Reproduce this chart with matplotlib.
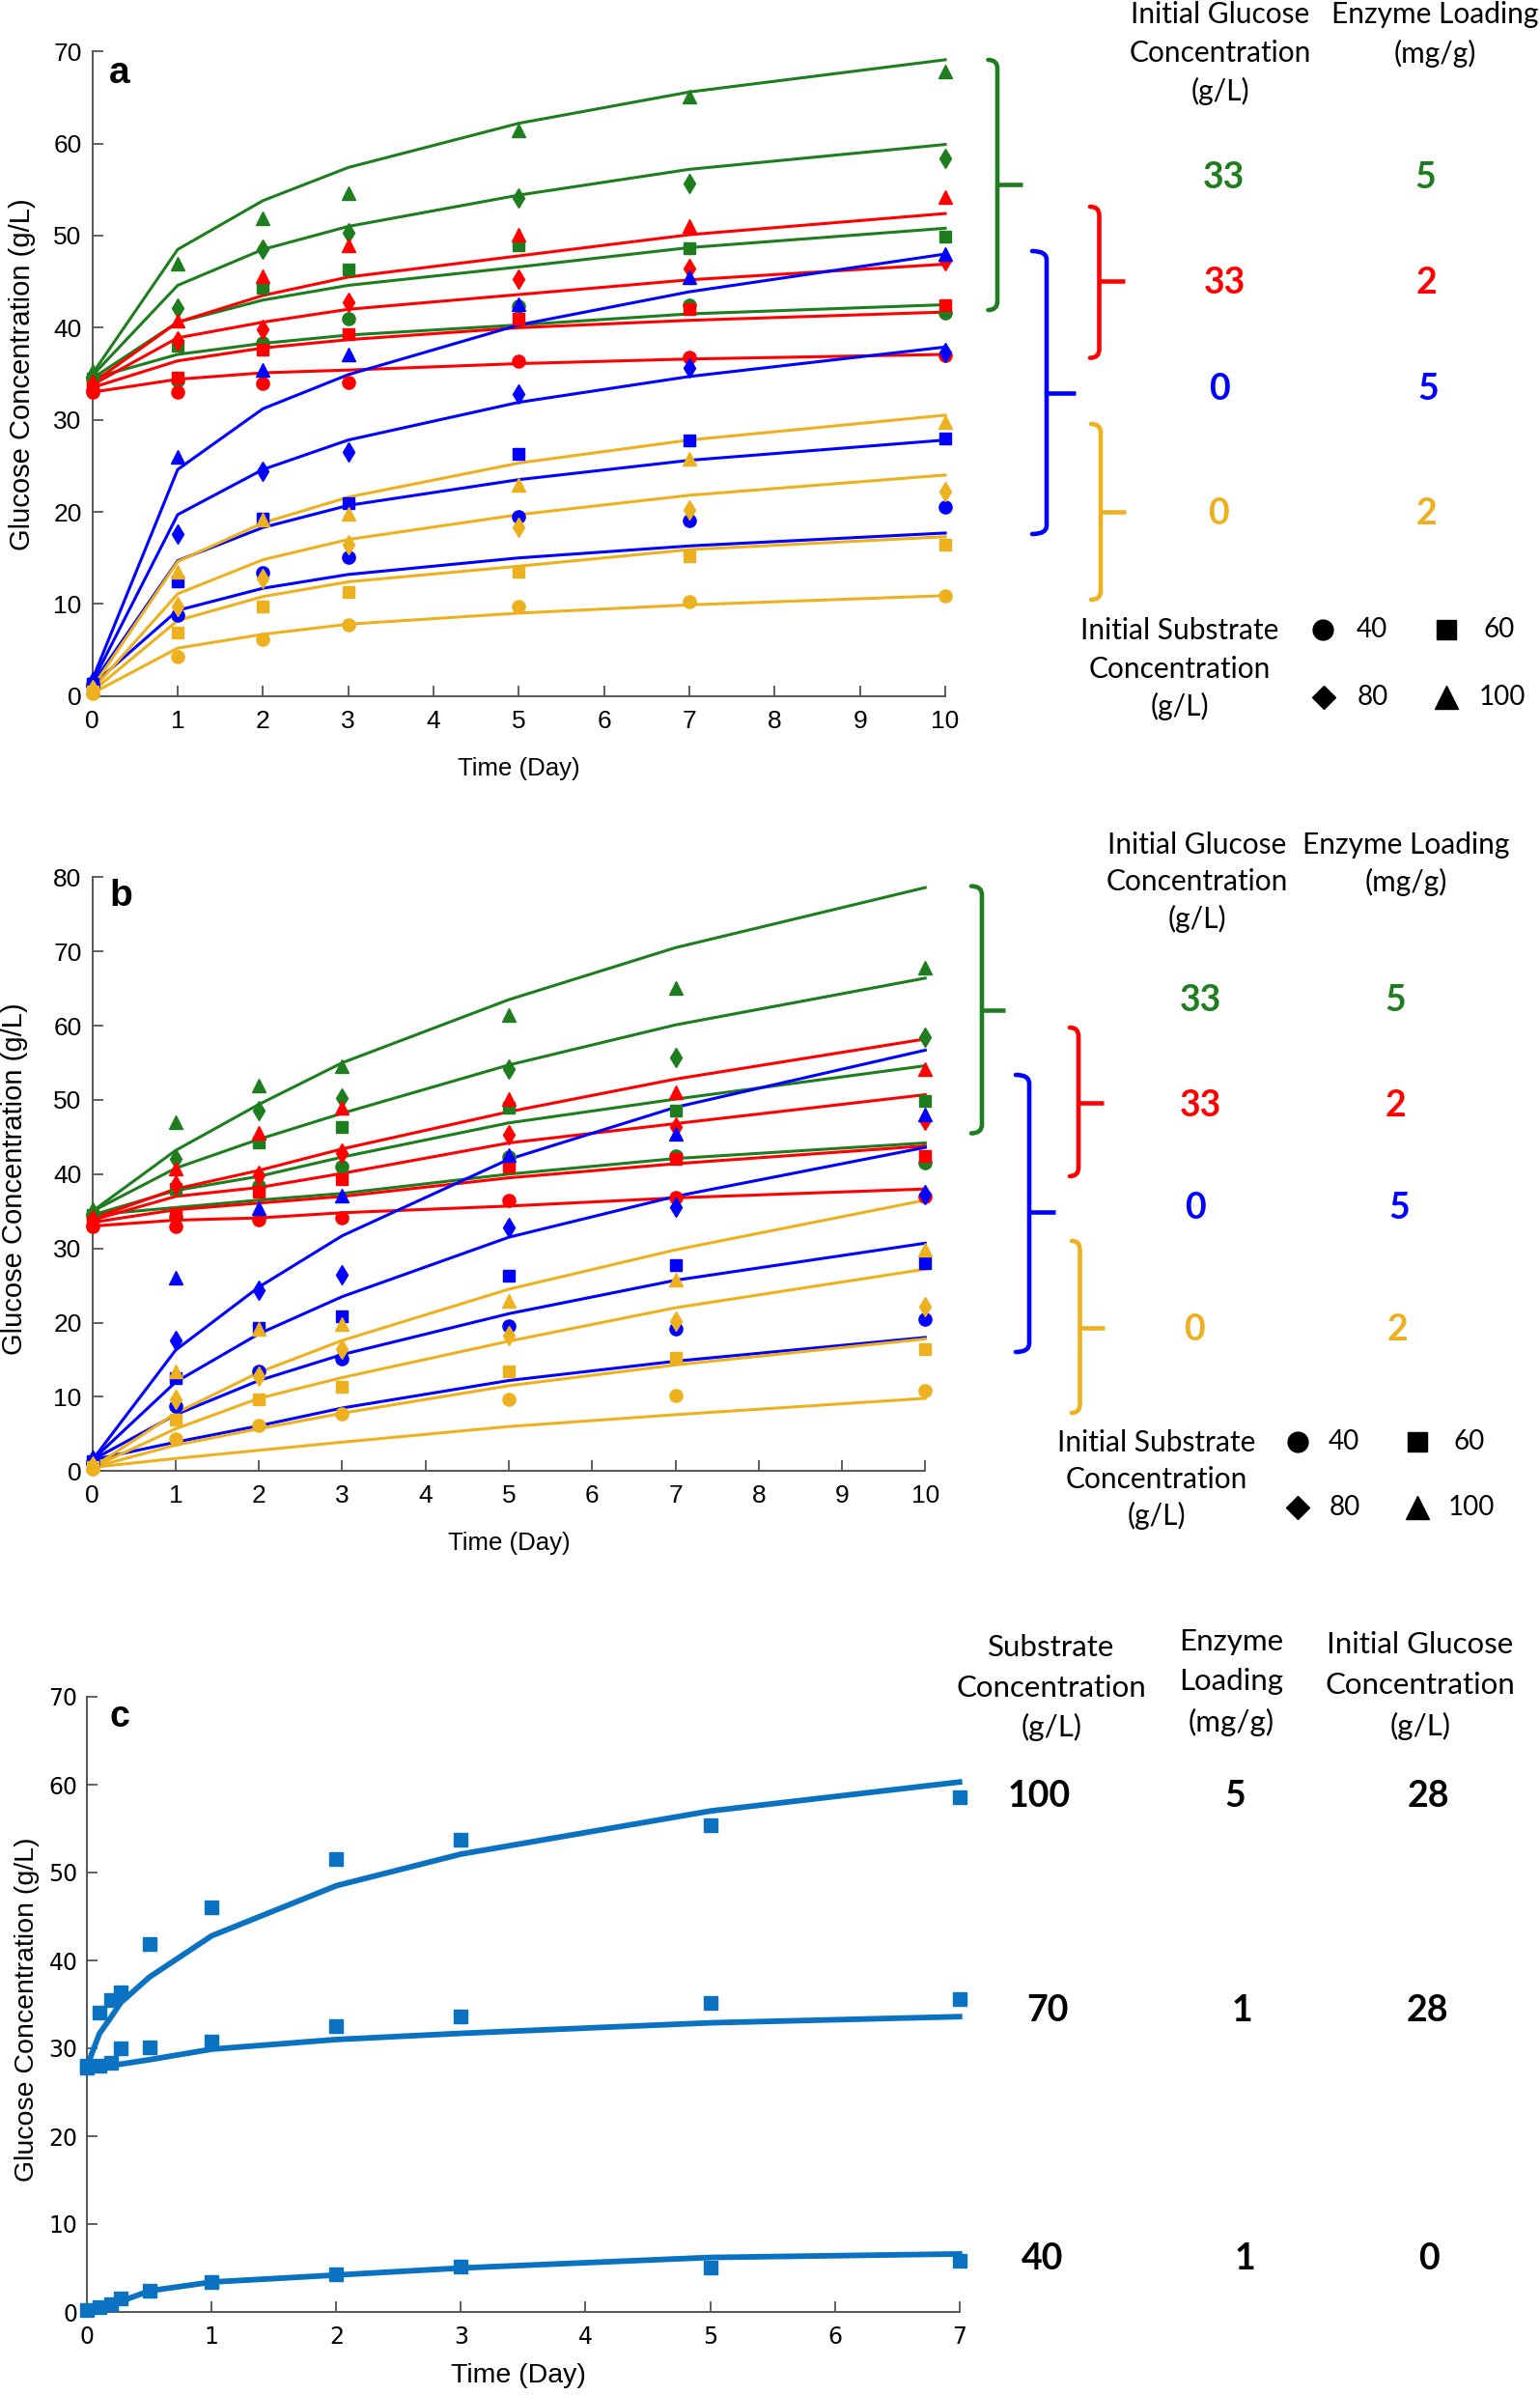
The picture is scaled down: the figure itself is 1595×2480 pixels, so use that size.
import matplotlib
matplotlib.use("Agg")
import matplotlib.pyplot as plt
from matplotlib import font_manager as fm
from matplotlib.path import Path
from matplotlib.patches import PathPatch

# ---------------- data ----------------
days = [0, 1, 2, 3, 5, 7, 10]
substrate_levels = ["40", "60", "80", "100"]          # initial substrate (g/L)
cond_glucose = ["33", "33", "0", "0"]                 # initial glucose (g/L)
cond_enzyme = ["5", "2", "5", "2"]                    # enzyme loading (mg/g)

# observed glucose (g/L); rows: substrate 40, 60, 80, 100
green_obs = [[34.5, 34.3, 38.4, 41.0, 42.3, 42.4, 41.6],
             [34.5, 38.0, 44.3, 46.3, 48.9, 48.6, 49.9],
             [34.8, 42.1, 48.5, 50.3, 54.1, 55.7, 58.4],
             [35.3, 47.0, 51.9, 54.6, 61.4, 65.1, 67.8]]
red_obs = [[33.0, 33.0, 33.9, 34.1, 36.4, 36.8, 37.0],
           [33.5, 34.6, 37.6, 39.3, 41.0, 42.0, 42.4],
           [33.8, 38.6, 39.8, 42.8, 45.3, 46.4, 47.3],
           [34.0, 40.8, 45.6, 48.9, 50.1, 51.0, 54.2]]
blue_obs = [[1.2, 8.8, 13.4, 15.1, 19.5, 19.1, 20.5],
            [1.3, 12.5, 19.3, 20.9, 26.3, 27.8, 28.0],
            [1.5, 17.6, 24.4, 26.5, 32.8, 35.6, 37.3],
            [1.8, 26.0, 35.4, 37.1, 42.6, 45.5, 48.0]]
yellow_obs = [[0.3, 4.3, 6.2, 7.7, 9.7, 10.2, 10.9],
              [0.5, 6.9, 9.7, 11.3, 13.5, 15.2, 16.4],
              [0.7, 9.7, 12.8, 16.4, 18.3, 20.2, 22.2],
              [0.9, 13.5, 19.2, 19.8, 22.9, 25.8, 29.8]]

# model (panel a)
green_fit_a = [[34.5, 37.1, 38.3, 39.2, 40.3, 41.5, 42.5],
               [34.5, 40.6, 43.0, 44.6, 46.6, 48.7, 50.8],
               [34.8, 44.6, 48.5, 51.0, 54.4, 57.2, 59.9],
               [35.0, 48.5, 53.8, 57.4, 62.2, 65.6, 69.1]]
red_fit_a = [[33.0, 34.4, 35.1, 35.4, 36.1, 36.6, 37.1],
             [33.5, 36.4, 37.8, 38.7, 40.0, 40.8, 41.7],
             [33.8, 38.9, 40.6, 42.0, 43.6, 45.2, 46.9],
             [34.0, 40.6, 43.5, 45.5, 47.8, 50.1, 52.4]]
blue_fit_a = [[1.2, 9.3, 11.7, 13.2, 15.0, 16.3, 17.7],
              [1.3, 14.7, 18.3, 20.7, 23.5, 25.6, 27.8],
              [1.5, 19.7, 24.6, 27.8, 31.9, 34.7, 37.9],
              [1.8, 24.6, 31.2, 34.9, 40.3, 43.9, 48.0]]
yellow_fit_a = [[0.3, 5.2, 6.7, 7.8, 9.0, 9.9, 10.9],
                [0.5, 8.2, 10.8, 12.4, 14.1, 15.9, 17.3],
                [0.7, 11.1, 14.8, 17.0, 19.7, 21.8, 24.0],
                [0.9, 14.6, 18.8, 21.6, 25.3, 27.8, 30.5]]

# model (panel b)
green_fit_b = [[34.5, 35.5, 36.5, 37.4, 40.0, 42.1, 44.2],
               [34.5, 37.8, 39.7, 42.3, 46.9, 50.1, 54.6],
               [35.0, 40.8, 44.7, 48.2, 54.7, 60.1, 66.4],
               [35.0, 43.2, 49.4, 55.0, 63.5, 70.5, 78.6]]
red_fit_b = [[33.0, 33.8, 34.1, 34.8, 35.7, 36.8, 38.0],
             [33.5, 35.2, 36.1, 37.0, 39.5, 41.4, 43.8],
             [33.8, 37.0, 38.2, 40.1, 44.2, 46.8, 50.7],
             [34.0, 38.0, 40.5, 43.4, 48.4, 52.8, 58.2]]
blue_fit_b = [[1.5, 3.9, 6.1, 8.5, 12.2, 14.8, 18.0],
              [1.5, 7.6, 12.2, 15.7, 21.2, 25.7, 30.7],
              [1.5, 12.0, 18.5, 23.5, 31.5, 37.0, 43.6],
              [1.5, 16.3, 24.8, 31.7, 42.0, 49.0, 56.7]]
yellow_fit_b = [[0.5, 1.7, 2.8, 3.9, 6.0, 7.6, 9.8],
                [0.5, 3.5, 5.7, 7.8, 11.5, 14.3, 17.8],
                [0.5, 5.7, 9.8, 12.6, 17.5, 22.0, 27.2],
                [0.5, 7.8, 13.3, 17.6, 24.5, 29.8, 36.5]]

# panel c
c_days = [0, 0.1, 0.19, 0.27, 0.5, 1, 2, 3, 5, 7]
c_obs_100 = [28.0, 34.1, 35.5, 36.4, 41.9, 46.0, 51.5, 53.7, 55.4, 58.6]
c_obs_70 = [27.8, 28.0, 28.3, 30.0, 30.1, 30.8, 32.5, 33.6, 35.2, 35.6]
c_obs_40 = [0.2, 0.6, 0.9, 1.5, 2.4, 3.4, 4.3, 5.2, 5.1, 5.8]
c_fit_100 = [28.0, 31.7, 33.5, 35.2, 38.1, 42.8, 48.5, 52.1, 57.0, 60.3]
c_fit_70 = [28.0, 28.0, 28.1, 28.2, 28.7, 29.9, 31.0, 31.7, 32.9, 33.6]
c_fit_40 = [0.0, 0.5, 0.9, 1.2, 2.4, 3.4, 4.2, 5.0, 6.2, 6.6]
c_substrate = ["100", "70", "40"]
c_enzyme = ["5", "1", "1"]
c_glucose = ["28", "28", "0"]

# ---------------- style ----------------
W, H = 1595, 2480
GREEN, RED, BLUE, YELLOW = "#1E7D1E", "#FF0000", "#0000FF", "#EDB120"
CBLUE = "#0A72C0"
AXC = "#555555"
names = {f.name for f in fm.fontManager.ttflist}
AXF = "Liberation Sans" if "Liberation Sans" in names else "DejaVu Sans"
NARROW = "Liberation Sans Narrow" if "Liberation Sans Narrow" in names else AXF
LEG = "Lato" if "Lato" in names else "DejaVu Sans"
plt.rcParams["font.family"] = [AXF, "DejaVu Sans"]

fig = plt.figure(figsize=(W / 100, H / 100), dpi=100)


def px_axes(x0, ytop, x1, ybot):
    return fig.add_axes([x0 / W, 1 - ybot / H, (x1 - x0) / W, (ybot - ytop) / H])


def style_axes(ax, xmax, ymax, labelsize, tickfont, xpad, ypad):
    ax.set_xlim(0, xmax)
    ax.set_ylim(0, ymax)
    ax.set_xticks(range(0, xmax + 1))
    ax.set_yticks(range(0, ymax + 1, 10))
    for s in ("top", "right"):
        ax.spines[s].set_visible(False)
    for s in ("left", "bottom"):
        ax.spines[s].set_color(AXC)
        ax.spines[s].set_linewidth(1.4)
    ax.tick_params(direction="in", length=8, width=1.3, color=AXC,
                   labelsize=labelsize, labelcolor="black")
    ax.tick_params(axis="x", pad=xpad)
    ax.tick_params(axis="y", pad=ypad)
    for lb in ax.get_xticklabels() + ax.get_yticklabels():
        lb.set_fontfamily(tickfont)
    ax.patch.set_alpha(0)


markers = ["o", "s", "d", "^"]
msizes = [9.5, 9, 10, 10]
colors = [GREEN, RED, BLUE, YELLOW]
obs_sets = [green_obs, red_obs, blue_obs, yellow_obs]


def draw_kinetics(ax, fits):
    for col, obs, fit in zip(colors, obs_sets, fits):
        for mk, ms, o, f in zip(markers, msizes, obs, fit):
            ax.plot(days, f, color=col, lw=2.2, clip_on=False, zorder=2)
            ax.plot(days, o, ls="none", marker=mk, ms=ms, color=col,
                    mec=col, clip_on=False, zorder=3)


# panel a
axa = px_axes(95.7, 53.3, 979, 720.7)
draw_kinetics(axa, [green_fit_a, red_fit_a, blue_fit_a, yellow_fit_a])
style_axes(axa, 10, 70, 19, AXF, 10, 8)

# panel b
axb = px_axes(95.7, 908.3, 958.3, 1523.3)
draw_kinetics(axb, [green_fit_b, red_fit_b, blue_fit_b, yellow_fit_b])
style_axes(axb, 10, 80, 19, AXF, 10, 8)

# panel c
axc = px_axes(90.2, 1757, 993.7, 2394)
for o, f in zip([c_obs_100, c_obs_70, c_obs_40], [c_fit_100, c_fit_70, c_fit_40]):
    axc.plot(c_days, f, color=CBLUE, lw=4.2, clip_on=False, zorder=2)
    axc.plot(c_days, o, ls="none", marker="s", ms=10, color=CBLUE,
             clip_on=False, zorder=3)
style_axes(axc, 7, 70, 17, "DejaVu Sans", 10, 7)

# ---------------- overlay (pixel coordinates) ----------------
ov = fig.add_axes([0, 0, 1, 1])
ov.set_xlim(0, W)
ov.set_ylim(H, 0)
ov.axis("off")
ov.patch.set_visible(False)


def txt(x, y, s, size, family=LEG, weight="normal", color="black", rot=0):
    ov.text(x, y, s, ha="center", va="center", fontsize=size, family=family,
            fontweight=weight, color=color, rotation=rot)


def bracket(x, yt, yb, hx, ym, tx, color):
    r = 9
    verts = [(hx, yt), (x, yt), (x, yt + r), (x, yb - r), (x, yb), (hx, yb)]
    codes = [Path.MOVETO, Path.CURVE3, Path.CURVE3, Path.LINETO, Path.CURVE3, Path.CURVE3]
    ov.add_patch(PathPatch(Path(verts, codes), fill=False, ec=color, lw=3.3,
                           capstyle="round"))
    ov.plot([x, tx], [ym, ym], color=color, lw=3.3, solid_capstyle="butt")


# panel labels / axis titles
txt(124, 76, "a", 28, AXF, "bold")
txt(125, 928, "b", 28, AXF, "bold")
txt(124, 1778, "c", 27, AXF, "bold")
txt(23, 388, "Glucose Concentration (g/L)", 21, AXF, rot=90)
txt(537, 796, "Time (Day)", 18.5, AXF)
txt(15, 1221, "Glucose Concentration (g/L)", 21, AXF, rot=90)
txt(527, 1598, "Time (Day)", 18.5, AXF)
cy_size = 25 if NARROW != AXF else 20.5
cx_size = 25 if NARROW != AXF else 20.5
txt(28, 2081, "Glucose Concentration (g/L)", cy_size, NARROW, rot=90)
txt(537, 2460, "Time (Day)", cx_size, NARROW)

# legends for panels a and b
legend_layout = [
    dict(hdr_g=(1264, [15, 55, 94]), hdr_e=(1486, [15, 55]),
         gx=[1267, 1268, 1263, 1262], ex=[1476, 1477, 1479, 1478],
         vy=[184, 293.5, 403, 532],
         brackets=[(1033, 62, 321, 1023.5, 190.5, 1059),
                   (1138.5, 214, 370.6, 1129, 291, 1165),
                   (1084, 260, 553, 1069, 407, 1114),
                   (1140, 439, 621, 1130, 530, 1166)],
         sub=(1222, [653, 692.5, 731]),
         mk=[(1370, 652), (1498, 652), (1371, 722), (1498, 722)],
         mt=[(1421, 652), (1553, 652), (1422, 722), (1556, 722)]),
    dict(hdr_g=(1240, [875, 913, 951.5]), hdr_e=(1456, [875, 913]),
         gx=[1243, 1243.5, 1238, 1237], ex=[1445, 1446, 1449, 1448],
         vy=[1036, 1145, 1251, 1377],
         brackets=[(1017, 917.6, 1173.5, 1006, 1046, 1041),
                   (1117, 1064, 1218, 1108, 1141.5, 1143),
                   (1066, 1113, 1400, 1052, 1255, 1093),
                   (1118.5, 1285, 1463, 1110, 1375, 1144)],
         sub=(1198, [1494, 1532, 1569.5]),
         mk=[(1344, 1493), (1468, 1493), (1344, 1561), (1468, 1561)],
         mt=[(1392, 1493), (1522, 1493), (1393, 1561), (1524, 1561)]),
]
leg_markers = ["o", "s", "D", "^"]
leg_ms = [15, 14.5, 12, 17]
for L in legend_layout:
    gx0, gys = L["hdr_g"]
    for s, y in zip(["Initial Glucose", "Concentration", "(g/L)"], gys):
        txt(gx0, y, s, 21.5)
    ex0, eys = L["hdr_e"]
    for s, y in zip(["Enzyme Loading", "(mg/g)"], eys):
        txt(ex0, y, s, 21.5)
    for col, g, e, gx, ex, y, br in zip(colors, cond_glucose, cond_enzyme,
                                         L["gx"], L["ex"], L["vy"], L["brackets"]):
        txt(gx, y, g, 27, weight="bold", color=col)
        txt(ex, y, e, 27, weight="bold", color=col)
        bracket(*br, col)
    sx, sys_ = L["sub"]
    for s, y in zip(["Initial Substrate", "Concentration", "(g/L)"], sys_):
        txt(sx, y, s, 21.5)
    for m, ms, (mx, my), (tx, ty), lab in zip(leg_markers, leg_ms, L["mk"], L["mt"],
                                              substrate_levels):
        ov.plot([mx], [my], marker=m, ms=ms, color="black", ls="none")
        txt(tx, ty, lab, 20)

# legend for panel c
for s, y in zip(["Substrate", "Concentration", "(g/L)"], [1705.6, 1748, 1788.6]):
    txt(1088.7, y, s, 22.5)
for s, y in zip(["Enzyme", "Loading", "(mg/g)"], [1700, 1741, 1783]):
    txt(1275, y, s, 22.5)
for s, y in zip(["Initial Glucose", "Concentration", "(g/L)"], [1703, 1745, 1787.6]):
    txt(1470.7, y, s, 22.5)
for sub, enz, glu, y, sxp, exp_, gxp in zip(c_substrate, c_enzyme, c_glucose,
                                            [1860, 2082, 2339],
                                            [1076, 1085, 1080], [1279, 1286, 1289],
                                            [1479, 1478, 1480]):
    txt(sxp, y, sub, 27, weight="bold")
    txt(exp_, y, enz, 27, weight="bold")
    txt(gxp, y, glu, 27, weight="bold")

fig.savefig("out.png", dpi=100)
